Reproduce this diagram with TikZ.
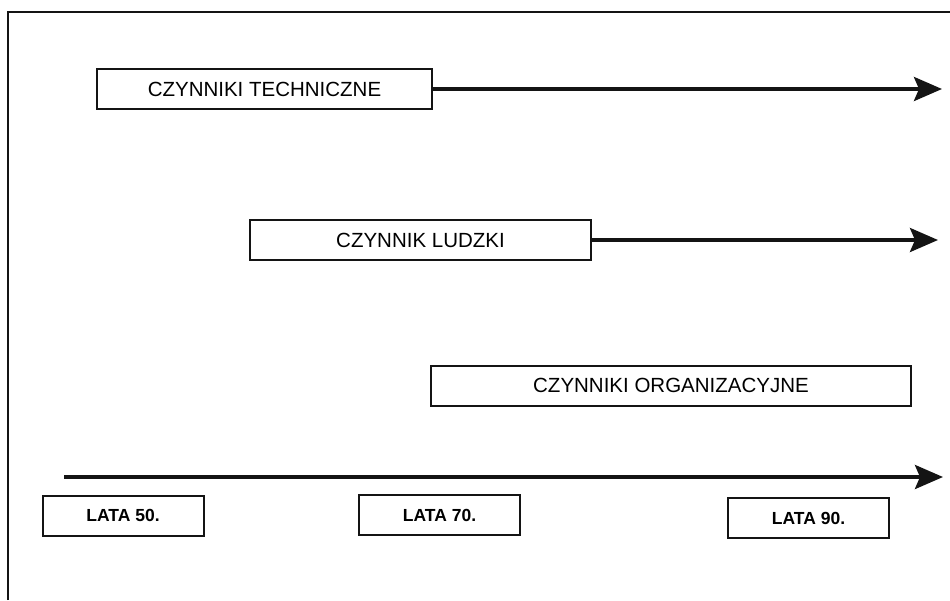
\documentclass[tikz,border=0pt]{standalone}
\usepackage{fontspec}
\setmainfont{Liberation Sans}
\usepackage{tikz}
\usetikzlibrary{positioning, arrows.meta}
\definecolor{ink}{RGB}{20, 20, 20}
\tikzset{
  czynnik/.style={
    draw=ink, line width=2pt, fill=white,
    minimum height=40pt, inner sep=0pt,
    font=\fontsize{20.5}{23}\selectfont,
  },
  okres/.style={
    draw=ink, line width=2pt, fill=white,
    minimum width=161pt, minimum height=40pt, inner sep=0pt,
    font=\fontsize{17.5}{20}\selectfont\bfseries,
  },
  trwa/.style={draw=ink, line width=3.8pt,
    -{Stealth[length=28pt, width=24pt, inset=5pt]}},
}

\begin{document}
\begin{tikzpicture}[x=1pt, y=-1pt]
\useasboundingbox (0,0) rectangle (950,600);

% ramka (przycieta z prawej i u dolu)
\draw[ink, line width=1.5pt] (8,600) -- (8,12) -- (950,12);

% czynniki
\node[czynnik, minimum width=335pt] (tech) at (264.5,89) {CZYNNIKI TECHNICZNE};
\node[czynnik, minimum width=341pt] (ludz) at (420.5,240) {CZYNNIK LUDZKI};
\node[czynnik, minimum width=480pt] (org) at (671,385.5) {CZYNNIKI ORGANIZACYJNE};

\coordinate (techKon) at (942,89);
\coordinate (ludzKon) at (938,240);
\draw[trwa] (tech.east) -- (techKon);
\draw[trwa] (ludz.east) -- (ludzKon);

% os czasu
\coordinate (osPocz) at (64,477);
\coordinate (osKon) at (943,477);
\draw[trwa] (osPocz) -- (osKon);

\node[okres] (l50) at (123,515.5) {LATA 50.};
\node[okres] (l70) at (439.5,515) {LATA 70.};
\node[okres] (l90) at (808.5,518) {LATA 90.};

\end{tikzpicture}
\end{document}
